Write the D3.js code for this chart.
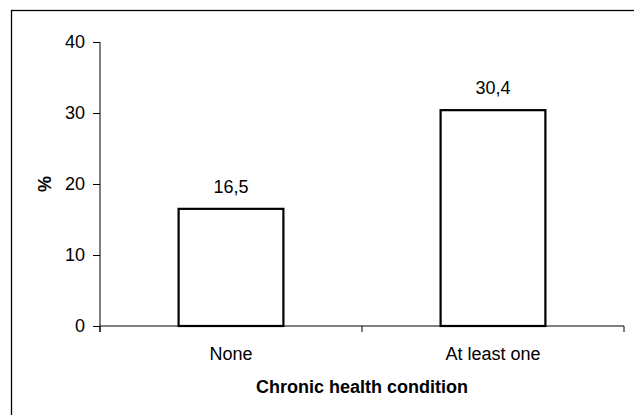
<!DOCTYPE html>
<html>
<head>
<meta charset="utf-8">
<script src="https://cdn.jsdelivr.net/npm/d3@7"></script>
<style>
  html, body { margin: 0; padding: 0; background: #fff; }
  svg { display: block; font-family: "Liberation Sans", Arial, sans-serif; }
</style>
</head>
<body>
<script>
const categories = ["None", "At least one"];
const values = [16.5, 30.4];
const valueLabels = ["16,5", "30,4"];
const yTicks = [0, 10, 20, 30, 40];
const xTitle = "Chronic health condition";
const yTitle = "%";

const W = 634, H = 415;
const FS = 18;
const svg = d3.select("body").append("svg").attr("width", W).attr("height", H);

// outer frame (right/bottom edges fall outside the picture)
svg.append("rect")
  .attr("x", 11.5).attr("y", 10.5)
  .attr("width", 700).attr("height", 500)
  .attr("fill", "none").attr("stroke", "#000").attr("stroke-width", 1.3);

const x0 = 100, x1 = 624, y0 = 326, y1 = 42;
const x = d3.scaleBand().domain(categories).range([x0, x1]).padding(0);
const y = d3.scaleLinear().domain([0, 40]).range([y0, y1]);
const barW = x.bandwidth() * 0.4;

// y axis
const yAxis = svg.append("g").attr("transform", `translate(${x0},0)`)
  .call(d3.axisLeft(y).tickValues(yTicks).tickSize(7).tickPadding(8).tickFormat(d3.format("d")));
yAxis.select(".domain").attr("d", `M0,${y1}V${y0 + 6}`).attr("stroke", "#000");
yAxis.selectAll("line").attr("stroke", "#000");
yAxis.selectAll("text").attr("font-size", FS).attr("fill", "#000").attr("font-family", "Liberation Sans, Arial, sans-serif");

// x axis line and ticks at band boundaries
const xg = svg.append("g");
xg.append("line").attr("x1", x0).attr("x2", x1).attr("y1", y0).attr("y2", y0).attr("stroke", "#000");
const bounds = [x0].concat(categories.map(c => x(c) + x.bandwidth()));
xg.selectAll(".xt").data(bounds).join("line")
  .attr("x1", d => d).attr("x2", d => d).attr("y1", y0).attr("y2", y0 + 6).attr("stroke", "#000");
xg.selectAll(".xl").data(categories).join("text")
  .attr("x", d => x(d) + x.bandwidth() / 2).attr("y", 360)
  .attr("text-anchor", "middle").attr("font-size", FS).text(d => d);

// bars
const data = categories.map((c, i) => ({c, v: values[i], l: valueLabels[i]}));
svg.selectAll(".bar").data(data).join("rect")
  .attr("x", d => x(d.c) + x.bandwidth() / 2 - barW / 2)
  .attr("y", d => y(d.v))
  .attr("width", barW)
  .attr("height", d => y(0) - y(d.v))
  .attr("fill", "#fff").attr("stroke", "#000").attr("stroke-width", 2.2);

svg.selectAll(".vl").data(data).join("text")
  .attr("x", d => x(d.c) + x.bandwidth() / 2)
  .attr("y", d => y(d.v) - 16)
  .attr("text-anchor", "middle").attr("font-size", FS).text(d => d.l);

// titles
svg.append("text").attr("x", (x0 + x1) / 2).attr("y", 393)
  .attr("text-anchor", "middle").attr("font-size", FS).attr("font-weight", "bold").text(xTitle);
svg.append("text").attr("transform", `translate(51,${y(20)}) rotate(-90)`)
  .attr("text-anchor", "middle").attr("font-size", FS).attr("font-weight", "bold").text(yTitle);
</script>
</body>
</html>
